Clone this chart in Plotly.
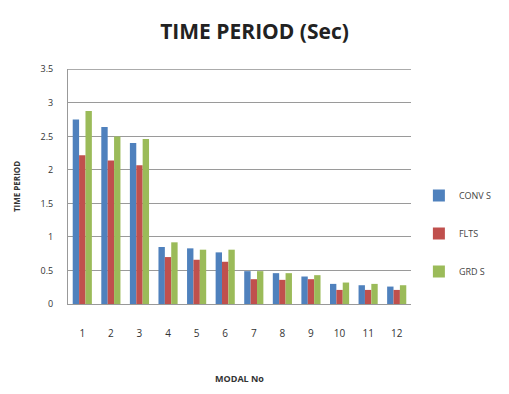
import plotly.graph_objects as go

modes = [str(i) for i in range(1, 13)]
conv_s = [2.75, 2.64, 2.40, 0.85, 0.83, 0.77, 0.49, 0.46, 0.41, 0.30, 0.28, 0.26]
flt_s = [2.22, 2.14, 2.07, 0.70, 0.66, 0.63, 0.37, 0.36, 0.37, 0.21, 0.21, 0.21]
grd_s = [2.88, 2.50, 2.46, 0.92, 0.81, 0.81, 0.49, 0.46, 0.43, 0.32, 0.30, 0.28]
y_max = 3.5

series = [
    ("CONV S", conv_s, "#4F81BD"),
    ("FLTS", flt_s, "#C0504D"),
    ("GRD S", grd_s, "#9BBB59"),
]

fig = go.Figure()
for name, vals, color in series:
    fig.add_trace(go.Bar(
        x=modes, y=vals, name=name, legendgroup=name,
        marker=dict(color=color, line=dict(width=0)),
    ))

# top gridline at the axis maximum
fig.add_hline(y=y_max, line=dict(color="#9a9a9a", width=1), layer="below")

font_family = "Open Sans, Liberation Sans, sans-serif"

fig.update_layout(
    width=509, height=394,
    margin=dict(l=68, r=81, t=69, b=88),
    paper_bgcolor="white", plot_bgcolor="white",
    barmode="group", bargap=0.33, bargroupgap=0,
    title=dict(text="<b>TIME PERIOD (Sec)</b>", x=0.5, xanchor="center",
               y=0.92, yanchor="middle",
               font=dict(family=font_family, size=21, color="#222")),
    font=dict(family=font_family, size=10, color="#333"),
    legend=dict(x=1.023, xanchor="left", y=0.30, yanchor="middle",
                font=dict(size=9, color="#444"),
                traceorder="grouped", tracegroupgap=19,
                itemwidth=30),
    xaxis=dict(
        showgrid=False, showline=True, linecolor="#999", linewidth=1,
        ticks="outside", ticklen=20, tickcolor="rgba(0,0,0,0)",
        tickfont=dict(size=10, color="#333"),
        title=dict(text="<b>MODAL No</b>", font=dict(size=9, color="#333"), standoff=36),
    ),
    yaxis=dict(
        range=[0, 3.505], tickvals=[0, 0.5, 1, 1.5, 2, 2.5, 3, 3.5],
        ticktext=["0", "0.5", "1", "1.5", "2", "2.5", "3", "3.5"],
        showgrid=True, gridcolor="#9a9a9a", gridwidth=1,
        showline=True, linecolor="#999", linewidth=1,
        ticks="outside", ticklen=12, tickcolor="rgba(0,0,0,0)",
        tickfont=dict(size=9, color="#333"), zeroline=False,
        title=dict(text="<b>TIME PERIOD</b>", font=dict(size=8, color="#333"), standoff=18),
    ),
)

fig.write_html("out.html")
